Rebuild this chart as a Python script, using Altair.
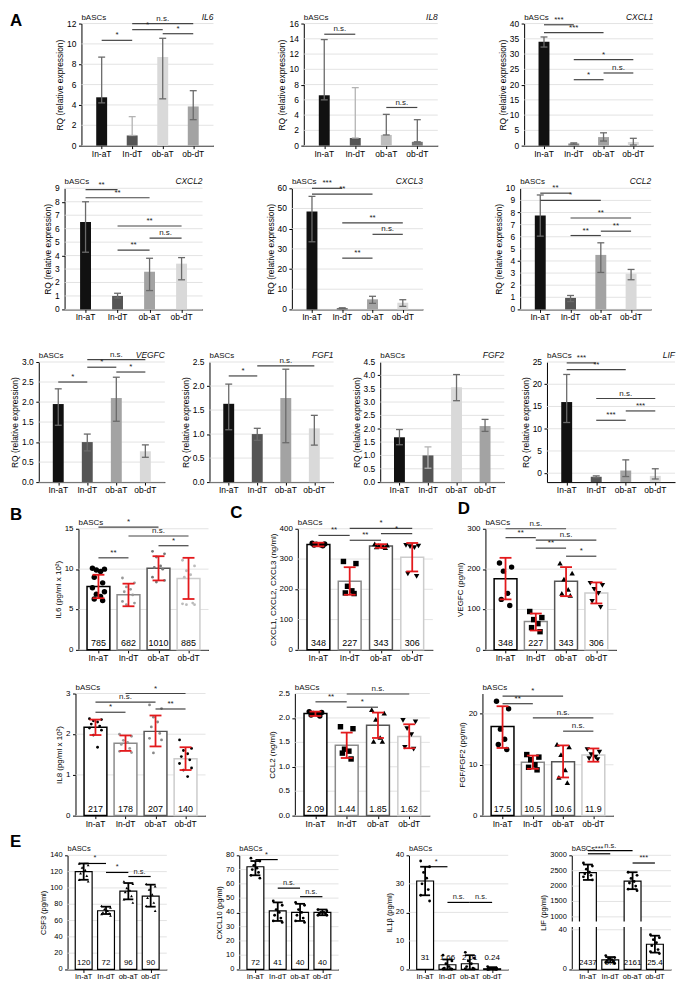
import altair as alt
import pandas as pd

FONT = "Liberation Sans"
CATS = ["In-aT", "In-dT", "ob-aT", "ob-dT"]

K = "#111111"; DK = "#555555"; MD = "#a3a3a3"; LT = "#d9d9d9"
EG = "#6a6a6a"; EL = "#b3b3b3"; SIGC = "#444444"; RED = "#e3191c"; GRID = "#dcdcdc"

# ---------------- A: qPCR (RQ) ----------------
IL6_RQ = [4.75, 1.0, 8.7, 3.85]
IL6_LO = [4.2, 1.0, 4.6, 2.55]
IL6_HI = [8.7, 2.85, 10.55, 5.4]
IL6_SIG = [(0, 1, 10.35, "*"), (1, 2, 11.4, "*"), (2, 3, 11.0, "*"), (1, 3, 12.0, "n.s.")]

IL8_RQ = [6.6, 1.0, 1.4, 0.5]
IL8_LO = [6.0, 1.0, 1.4, 0.5]
IL8_HI = [13.9, 7.6, 4.1, 3.4]
IL8_SIG = [(0, 1, 14.6, "n.s."), (2, 3, 5.0, "n.s.")]

CXCL1_RQ = [34.0, 0.7, 2.8, 1.2]
CXCL1_LO = [32.3, 0.5, 1.5, 0.2]
CXCL1_HI = [35.6, 0.9, 4.2, 2.4]
CXCL1_SIG = [(0, 1, 39.6, "***"), (0, 2, 37.0, "***"), (1, 3, 28.2, "*"), (2, 3, 23.8, "n.s."), (1, 2, 21.6, "*")]

CXCL2_RQ = [6.5, 1.0, 2.8, 3.4]
CXCL2_LO = [4.25, 0.85, 1.4, 2.2]
CXCL2_HI = [8.0, 1.2, 3.8, 3.85]
CXCL2_SIG = [(0, 1, 8.9, "**"), (0, 2, 8.3, "**"), (1, 3, 6.2, "**"), (2, 3, 5.3, "n.s."), (1, 2, 4.4, "**")]

CXCL3_RQ = [48.5, 0.6, 5.0, 3.3]
CXCL3_LO = [33.5, 0.4, 3.0, 1.5]
CXCL3_HI = [56.0, 0.8, 6.5, 4.8]
CXCL3_SIG = [(0, 1, 60.0, "***"), (0, 2, 57.1, "**"), (1, 3, 42.9, "**"), (2, 3, 37.2, "n.s."), (1, 2, 25.4, "**")]

CCL2_RQ = [7.75, 0.95, 4.5, 2.95]
CCL2_LO = [6.05, 0.65, 3.05, 2.45]
CCL2_HI = [9.45, 1.15, 5.5, 3.3]
CCL2_SIG = [(0, 1, 9.6, "**"), (0, 2, 9.0, "*"), (1, 3, 7.55, "**"), (2, 3, 6.46, "**"), (1, 2, 6.1, "**")]

VEGFC_RQ = [1.95, 1.0, 2.1, 0.77]
VEGFC_LO = [1.42, 0.78, 1.52, 0.62]
VEGFC_HI = [2.33, 1.2, 2.62, 0.93]
VEGFC_SIG = [(0, 1, 2.5, "*"), (1, 2, 2.87, "*"), (2, 3, 2.75, "*"), (1, 3, 3.06, "n.s.")]

FGF1_RQ = [1.63, 1.0, 1.75, 1.12]
FGF1_LO = [1.09, 0.87, 0.82, 0.77]
FGF1_HI = [2.04, 1.12, 2.35, 1.39]
FGF1_SIG = [(0, 1, 2.21, "*"), (1, 3, 2.42, "n.s.")]

FGF2_RQ = [1.68, 1.0, 3.55, 2.1]
FGF2_LO = [1.4, 0.52, 3.05, 1.9]
FGF2_HI = [1.97, 1.32, 4.03, 2.35]
FGF2_SIG = []

LIFA_RQ = [16.0, -0.8, 0.6, -0.6]
LIFA_LO = [11.4, -1.0, -0.75, -1.3]
LIFA_HI = [22.2, -0.6, 3.0, 1.0]
LIFA_SIG = [(0, 1, 24.8, "***"), (0, 2, 23.3, "**"), (1, 3, 16.8, "n.s."), (2, 3, 14.0, "***"), (1, 2, 11.9, "***")]

# ---------------- B: IL6 / IL8 secreted ----------------
BIL6_MEAN = [7.85, 6.82, 10.1, 8.85]
BIL6_LO = [6.4, 5.4, 8.6, 6.3]
BIL6_HI = [9.3, 8.2, 11.6, 11.4]
BIL6_LAB = ["785", "682", "1010", "885"]
BIL6_PTS = [[10.1, 10.0, 9.9, 9.7, 9.0, 8.3, 7.7, 7.2, 6.9, 6.6, 6.3, 6.1],
            [8.9, 8.3, 7.8, 7.5, 7.2, 6.8, 6.0, 5.8, 5.6],
            [12.2, 11.9, 11.5, 10.4, 10.2, 10.0, 9.0, 8.6, 8.4],
            [11.1, 10.4, 9.8, 9.3, 9.0, 5.8, 5.7, 5.6, 5.6]]
BIL6_SIG = [(0, 2, 15.2, "*"), (1, 3, 14.1, "n.s."), (2, 3, 12.9, "*"), (0, 1, 11.4, "**")]

BIL8_MEAN = [2.17, 1.78, 2.07, 1.40]
BIL8_LO = [1.98, 1.59, 1.70, 1.12]
BIL8_HI = [2.36, 1.97, 2.46, 1.68]
BIL8_LAB = ["217", "178", "207", "140"]
BIL8_PTS = [[2.38, 2.36, 2.33, 2.30, 2.25, 2.2, 2.15, 2.1, 1.98, 1.68],
            [2.0, 1.95, 1.85, 1.8, 1.75, 1.65, 1.58, 1.55],
            [2.72, 2.63, 2.42, 2.3, 2.18, 2.02, 1.9, 1.86, 1.54],
            [1.86, 1.65, 1.6, 1.52, 1.45, 1.37, 1.28, 1.17, 1.12, 0.96]]
BIL8_SIG = [(1, 3, 3.0, "*"), (0, 2, 2.79, "n.s."), (2, 3, 2.62, "**"), (0, 1, 2.54, "*")]

# ---------------- C: CXCL1,2,3 / CCL2 ----------------
CCX_MEAN = [348, 227, 343, 306]
CCX_LO = [342, 182, 337, 259]
CCX_HI = [354, 273, 349, 353]
CCX_LAB = ["348", "227", "343", "306"]
CCX_PTS = [[352, 350, 349, 347, 346, 344],
           [292, 285, 210, 195, 188, 186],
           [350, 346, 344, 342, 340, 338],
           [345, 343, 341, 338, 251, 243]]
CCX_SIG = [(1, 3, 401, "*"), (2, 3, 384, "*"), (0, 1, 378, "**"), (1, 2, 362, "**")]

CCL2_MEAN = [2.09, 1.44, 1.85, 1.62]
CCL2_ELO = [2.04, 1.18, 1.59, 1.38]
CCL2_EHI = [2.13, 1.70, 2.11, 1.87]
CCL2_LAB = ["2.09", "1.44", "1.85", "1.62"]
CCL2_PTS = [[2.13, 2.11, 2.09, 2.08, 2.06, 2.04],
            [1.82, 1.78, 1.36, 1.32, 1.28, 1.16],
            [2.17, 2.10, 1.97, 1.60, 1.52, 1.52],
            [1.95, 1.92, 1.78, 1.66, 1.40, 1.36]]
CCL2_CSIG = [(1, 3, 2.49, "n.s."), (0, 1, 2.33, "**"), (1, 2, 2.22, "*")]

# ---------------- D: VEGFC / FGF ----------------
DVEG_MEAN = [176, 70, 170, 141]
DVEG_LO = [125, 48, 133, 115]
DVEG_HI = [228, 90, 205, 167]
DVEG_LAB = ["348", "227", "343", "306"]
DVEG_PTS = [[215, 205, 195, 140, 125, 110],
            [95, 80, 75, 65, 55, 45],
            [215, 190, 175, 150, 140, 135],
            [165, 160, 150, 140, 120, 105]]
DVEG_SIG = [(0, 2, 300, "n.s."), (0, 1, 278, "**"), (1, 3, 272, "n.s."), (1, 2, 252, "**"), (2, 3, 232, "*")]

DFGF_MEAN = [17.5, 10.5, 10.6, 11.9]
DFGF_LO = [13.3, 9.2, 7.5, 10.6]
DFGF_HI = [21.5, 11.8, 13.8, 13.2]
DFGF_LAB = ["17.5", "10.5", "10.6", "11.9"]
DFGF_PTS = [[22.5, 21, 17, 15, 14, 13],
            [12, 11.5, 11, 10, 9.5, 9],
            [14, 13.5, 12, 9, 7.5, 6.5],
            [13, 12.5, 12, 11.5, 11.2, 11]]
DFGF_SIG = [(0, 2, 23.5, "*"), (0, 1, 22.0, "**"), (1, 3, 19.2, "n.s."), (2, 3, 16.6, "n.s.")]

# ---------------- E ----------------
CSF3_MEAN = [120, 72, 96, 90]
CSF3_LO = [110, 68, 86, 77]
CSF3_HI = [130, 77, 106, 104]
CSF3_LAB = ["120", "72", "96", "90"]
CSF3_PTS = [[130, 128, 125, 122, 118, 115, 110, 108],
            [78, 76, 74, 72, 70, 69, 68, 66],
            [108, 105, 100, 97, 95, 90, 86, 82],
            [105, 102, 98, 92, 88, 82, 78, 72]]
CSF3_SIG = [(0, 1, 130, "*"), (1, 2, 119, "*"), (2, 3, 114, "n.s.")]

CX10_MEAN = [72, 41, 40, 40]
CX10_LO = [66, 34, 34, 38]
CX10_HI = [76, 47, 46, 42]
CX10_LAB = ["72", "41", "40", "40"]
CX10_PTS = [[78, 76, 73, 71, 70, 68, 66, 64],
            [48, 45, 42, 40, 38, 36, 34, 33],
            [47, 45, 42, 40, 38, 36, 34, 33],
            [42, 41, 40, 40, 39, 39, 38, 38]]
CX10_SIG = [(0, 1, 77, "*"), (1, 2, 57, "n.s."), (2, 3, 51, "n.s.")]

IL1B_MEAN = [31, 1.66, 2.01, 0.24]
IL1B_LO = [26, 0, 0, 0]
IL1B_HI = [36, 3.5, 5, 0.8]
IL1B_LAB = ["31", "1.66", "2.01", "0.24"]
IL1B_PTS = [[38, 36, 34, 32, 30, 28, 26, 24],
            [5, 3, 2, 1, 0.5, 0.3, 0.2, 0.1],
            [6, 4, 3, 2, 1, 0.5, 0.3, 0.2],
            [1, 0.5, 0.3, 0.2, 0.1, 0.1, 0.0, 0.0]]
IL1B_SIG = [(0, 1, 36, "*"), (1, 2, 23.5, "n.s."), (2, 3, 23.5, "n.s.")]

LIFE_MEAN = [2437, 9.7, 2161, 25.4]
LIFE_LO = [2200, 7, 1900, 17]
LIFE_HI = [2700, 12.5, 2450, 34]
LIFE_LAB = ["2437", "9.7", "2161", "25.4"]
LIFE_PTS = [[2750, 2650, 2550, 2450, 2400, 2350, 2300, 2200],
            [14, 12, 11, 10, 9, 8, 7, 6],
            [2450, 2350, 2250, 2150, 2100, 2000, 1900, 1850],
            [35, 32, 30, 27, 24, 20, 18, 16]]
LIFE_SIG = [(0, 2, 3150, "n.s."), (0, 1, 3050, "***"), (2, 3, 2750, "***")]
LIFE_BREAK = [(250, 650)]

JIT = [-0.2, 0.2, -0.07, 0.07, -0.14, 0.14]


def xenc(field="i"):
    return alt.X(f"{field}:Q", scale=alt.Scale(domain=[-0.5, 3.5], nice=False, zero=False),
                 axis=alt.Axis(values=[0, 1, 2, 3], labels=False, title=None, grid=False, tickSize=3))


def one():
    return pd.DataFrame({"k": [0]})


def spacer():
    return alt.Chart(one()).mark_point(opacity=0, size=1).encode(
        x=alt.value(0), y=alt.value(0)).properties(width=1, height=1)


def fmt_tick(t, fmt):
    return f"{t:.1f}" if fmt == ".1f" else str(int(round(t)))


def yaxis(title, ticks, fmt, fs):
    labs = [fmt_tick(t, fmt) for t in ticks]
    lw = max(sum(0.278 * fs if ch == "." else 0.556 * fs for ch in s) for s in labs)
    return alt.Axis(values=ticks, labels=False, grid=False, title=title, tickSize=3,
                    titlePadding=lw + 4, titleFontSize=fs)


def tick_layers(ticks, fmt, fs, w, h, xfs):
    td = pd.DataFrame({"tv": ticks, "tl": [fmt_tick(t, fmt) for t in ticks]})
    grid = alt.Chart(td).mark_rule(color=GRID, strokeWidth=0.8).encode(
        x=alt.value(0), x2=alt.value(w), y="tv:Q")
    ylabs = alt.Chart(td).mark_text(align="right", baseline="middle", fontSize=fs, color="black").encode(
        x=alt.value(-5), y="tv:Q", text="tl:N")
    xd = pd.DataFrame({"i": range(4), "cat": CATS})
    xlabs = alt.Chart(xd).mark_text(align="center", baseline="top", fontSize=xfs, color="black").encode(
        x="i:Q", y=alt.value(h + 4), text="cat:N")
    return grid, ylabs, xlabs


def sig_layers(sig, fs=8, color=SIGC):
    if not sig:
        return []
    sd = pd.DataFrame(sig, columns=["a", "b", "y", "t"])
    sd["m"] = (sd.a + sd.b) / 2
    r = alt.Chart(sd).mark_rule(color=color, strokeWidth=1.2).encode(x="a:Q", x2="b:Q", y="y:Q")
    t = alt.Chart(sd).mark_text(fontSize=fs, baseline="bottom", dy=-1, color="#222").encode(
        x="m:Q", y="y:Q", text="t:N")
    return [r, t]


def frame_layers(w, h, L, T, B, left="bASCs", right=None, letter=None, letter_xy=None, fs=8):
    out = []
    out.append(alt.Chart(one()).mark_point(opacity=0, size=1).encode(x=alt.value(-L), y=alt.value(-T)))
    out.append(alt.Chart(one()).mark_point(opacity=0, size=1).encode(x=alt.value(-L), y=alt.value(h + B)))
    out.append(alt.Chart(one()).mark_text(text=left, align="left", baseline="bottom", fontSize=fs,
                                          color="#111").encode(x=alt.value(0), y=alt.value(-2)))
    if right:
        out.append(alt.Chart(one()).mark_text(text=right, align="right", baseline="bottom", fontSize=fs + 0.5,
                                              fontStyle="italic", color="#111").encode(
            x=alt.value(w), y=alt.value(-2)))
    if letter:
        lx, ly = letter_xy
        out.append(alt.Chart(one()).mark_text(text=letter, align="left", baseline="top", fontSize=17,
                                              fontWeight="bold", color="black").encode(
            x=alt.value(lx), y=alt.value(ly)))
    return out


def a_panel(gene, rq, lo, hi, sig, fills, ecols, ydom, ticks, fmt, w, h, L, T, B=16,
            letter=None, letter_xy=None, base=0, bw=11, fs=8.5):
    df = pd.DataFrame({"i": range(4), "v": rq, "lo": lo, "hi": hi, "f": fills, "ec": ecols,
                       "b0": [base] * 4})
    ysc = alt.Scale(domain=ydom, nice=False, zero=False)
    grid, ylabs, xlabs = tick_layers(ticks, fmt, fs, w, h, fs)
    bars = alt.Chart(df).mark_bar(size=bw).encode(
        x=xenc(), y=alt.Y("v:Q", scale=ysc, axis=yaxis("RQ (relative expression)", ticks, fmt, fs)),
        y2="b0:Q", color=alt.Color("f:N", scale=None, legend=None))
    err = alt.Chart(df).mark_rule(strokeWidth=1.3).encode(
        x="i:Q", y="lo:Q", y2="hi:Q", color=alt.Color("ec:N", scale=None, legend=None))
    caps = [alt.Chart(df).mark_rule(strokeWidth=1.3, xOffset=-3.5, x2Offset=3.5).encode(
        x="i:Q", x2="i:Q", y=f"{c}:Q", color=alt.Color("ec:N", scale=None, legend=None)) for c in ("lo", "hi")]
    layers = [grid, bars, ylabs, xlabs, err] + caps + sig_layers(sig) + frame_layers(
        w, h, L, T, B, right=gene, letter=letter, letter_xy=letter_xy)
    return alt.layer(*layers).properties(width=w, height=h)


def pts_frame(pts, shapes, pcols, psizes):
    rows = []
    for g, vals in enumerate(pts):
        for k, v in enumerate(vals):
            rows.append({"px": g + JIT[k % len(JIT)], "pv": v, "shp": shapes[g], "pc": pcols[g],
                         "ps": psizes[g]})
    return pd.DataFrame(rows)


def c_panel(ytitle, mean, lo, hi, labs_, pts, sig, strokes, shapes, pcols, psizes, ydom, ticks, fmt,
            w, h, L, T, B=16, bw=23, cap=6, letter=None, letter_xy=None, fs=8, labfs=9,
            errc=RED, sigc=SIGC, swidth=1.5, yrange=None, lab_y=0, xfs=8.5, brk=None):
    df = pd.DataFrame({"i": range(4), "v": mean, "lo": lo, "hi": hi, "sc": strokes, "lab": labs_,
                       "b0": [0] * 4, "ly": [lab_y] * 4})
    if yrange is None:
        ysc = alt.Scale(domain=ydom, nice=False, zero=False)
    else:
        ysc = alt.Scale(domain=ydom, range=yrange, nice=False, zero=False)
    grid, ylabs, xlabs = tick_layers(ticks, fmt, fs, w, h, xfs)
    bars = alt.Chart(df).mark_bar(size=bw, fill="white", strokeWidth=swidth).encode(
        x=xenc(), y=alt.Y("v:Q", scale=ysc, axis=yaxis(ytitle, ticks, fmt, fs)), y2="b0:Q",
        stroke=alt.Stroke("sc:N", scale=None, legend=None))
    labels = alt.Chart(df).mark_text(fontSize=labfs, baseline="bottom", dy=-2, color="black").encode(
        x="i:Q", y="ly:Q", text="lab:N")
    pdf = pts_frame(pts, shapes, pcols, psizes)
    points = alt.Chart(pdf).mark_point(filled=True, opacity=1).encode(
        x="px:Q", y="pv:Q", shape=alt.Shape("shp:N", scale=None, legend=None),
        color=alt.Color("pc:N", scale=None, legend=None), size=alt.Size("ps:Q", scale=None, legend=None))
    err = alt.Chart(df).mark_rule(strokeWidth=1.8, color=errc).encode(x="i:Q", y="lo:Q", y2="hi:Q")
    caps = [alt.Chart(df).mark_rule(strokeWidth=1.8, color=errc, xOffset=-cap, x2Offset=cap).encode(
        x="i:Q", x2="i:Q", y=f"{c}:Q") for c in ("lo", "hi")]
    extra = []
    if brk:
        bd = pd.DataFrame(brk, columns=["y1", "y2"])
        extra.append(alt.Chart(bd).mark_rect(color="white").encode(
            x=alt.value(-5), x2=alt.value(w), y="y1:Q", y2="y2:Q"))
    layers = [grid, bars, ylabs, xlabs, labels, points, err] + caps + extra + \
        sig_layers(sig, fs=fs, color=sigc) + \
        frame_layers(w, h, L, T, B, letter=letter, letter_xy=letter_xy, fs=fs)
    return alt.layer(*layers).properties(width=w, height=h)


SH4 = ["circle", "square", "triangle-up", "triangle-down"]
BLK4 = ["black"] * 4

# ---- row A1
T1 = 11
a1 = alt.hconcat(
    spacer(),
    a_panel("IL6", IL6_RQ, IL6_LO, IL6_HI, IL6_SIG, [K, DK, LT, MD], [EG, EL, EG, EG], [0, 12],
            list(range(0, 13, 2)), "d", 133, 123, 68, T1, letter="A", letter_xy=(-72, -11)),
    a_panel("IL8", IL8_RQ, IL8_LO, IL8_HI, IL8_SIG, [K, DK, "#bdbdbd", "#777777"], [EG, EL, EG, EG],
            [0, 16], list(range(0, 17, 2)), "d", 135, 123, 89, T1),
    a_panel("CXCL1", CXCL1_RQ, CXCL1_LO, CXCL1_HI, CXCL1_SIG, [K, "#888888", MD, LT], [EG] * 4,
            [0, 40], list(range(0, 41, 5)), "d", 130, 123, 85, T1),
    spacing=0)

T2 = 25
a2 = alt.hconcat(
    spacer(),
    a_panel("CXCL2", CXCL2_RQ, CXCL2_LO, CXCL2_HI, CXCL2_SIG, [K, DK, MD, LT], [EG] * 4, [0, 9],
            list(range(0, 10)), "d", 139, 122, 54, T2),
    a_panel("CXCL3", CXCL3_RQ, CXCL3_LO, CXCL3_HI, CXCL3_SIG, [K, DK, MD, LT], [EG] * 4, [0, 60],
            list(range(0, 61, 10)), "d", 132, 122, 88, T2),
    a_panel("CCL2", CCL2_RQ, CCL2_LO, CCL2_HI, CCL2_SIG, [K, DK, MD, LT], [EG] * 4, [0, 10],
            list(range(0, 11)), "d", 132, 122, 96, T2),
    spacing=0)

T3 = 35
half = [x / 2 for x in range(0, 10)]
a3 = alt.hconcat(
    spacer(),
    a_panel("VEGFC", VEGFC_RQ, VEGFC_LO, VEGFC_HI, VEGFC_SIG, [K, DK, MD, LT], [EG] * 4, [0, 3],
            half[:7], ".1f", 127, 121, 27, T3),
    a_panel("FGF1", FGF1_RQ, FGF1_LO, FGF1_HI, FGF1_SIG, [K, DK, MD, LT], [EG] * 4, [0, 2.5],
            half[:6], ".1f", 125, 121, 43, T3),
    a_panel("FGF2", FGF2_RQ, FGF2_LO, FGF2_HI, FGF2_SIG, [K, DK, LT, MD], [EG, EL, EG, EG], [0, 4.5],
            half[:10], ".1f", 125, 121, 45, T3),
    a_panel("LIF", LIFA_RQ, LIFA_LO, LIFA_HI, LIFA_SIG, [K, DK, MD, LT], [EG] * 4, [-2, 25],
            list(range(0, 26, 5)), "d", 129, 121, 41, T3, base=-2),
    spacing=0)

# ---- rows B/C/D
T4 = 29
B_STROKE = ["black", "#8a8a8a", "#555555", "#cccccc"]
r4 = alt.hconcat(
    spacer(),
    c_panel("IL6 (pg/ml x 10²)", BIL6_MEAN, BIL6_LO, BIL6_HI, BIL6_LAB, BIL6_PTS, BIL6_SIG, B_STROKE,
            ["circle"] * 4, ["black", "#999999", "#777777", "#bbbbbb"], [30, 8, 8, 8], [0, 15],
            [0, 5, 10, 15], "d", 131, 122, 65, T4, letter="B", letter_xy=(-69, -22)),
    c_panel("CXCL1, CXCL2, CXCL3 (ng/ml)", CCX_MEAN, CCX_LO, CCX_HI, CCX_LAB, CCX_PTS, CCX_SIG, B_STROKE,
            SH4, BLK4, [30] * 4, [0, 400], [0, 100, 200, 300, 400], "d", 136, 122, 88, T4,
            letter="C", letter_xy=(-68, -24)),
    c_panel("VEGFC (pg/ml)", DVEG_MEAN, DVEG_LO, DVEG_HI, DVEG_LAB, DVEG_PTS, DVEG_SIG, B_STROKE,
            SH4, BLK4, [30] * 4, [0, 300], [0, 100, 200, 300], "d", 132, 122, 51, T4,
            letter="D", letter_xy=(-28, -28)),
    spacing=0)

T5 = 26
r5 = alt.hconcat(
    spacer(),
    c_panel("IL8 (pg/ml x 10²)", BIL8_MEAN, BIL8_LO, BIL8_HI, BIL8_LAB, BIL8_PTS, BIL8_SIG, B_STROKE,
            ["circle"] * 4, ["black", "#999999", "#888888", "black"], [8, 8, 8, 8], [0, 3],
            [0, 1, 2, 3], "d", 131, 123, 65, T5),
    c_panel("CCL2 (ng/ml)", CCL2_MEAN, CCL2_ELO, CCL2_EHI, CCL2_LAB, CCL2_PTS, CCL2_CSIG, B_STROKE,
            SH4, BLK4, [30] * 4, [0, 2.5], [0, 0.5, 1.0, 1.5, 2.0, 2.5], ".1f", 136, 123, 88, T5),
    c_panel("FGF/FGF2 (pg/ml)", DFGF_MEAN, DFGF_LO, DFGF_HI, DFGF_LAB, DFGF_PTS, DFGF_SIG, B_STROKE,
            SH4, BLK4, [30] * 4, [0, 24], [0, 10, 20], "d", 132, 123, 51, T5),
    spacing=0)

# ---- row E
T6 = 22
HE = 115
E_ST = ["black"] * 4
E_PC = ["black"] * 4
E_SZ = [8] * 4
EKW = dict(B=12, bw=17, cap=5, errc="black", sigc="black", swidth=1.2, fs=7.5, labfs=8, xfs=7.5)
r6 = alt.hconcat(
    spacer(),
    c_panel("CSF3 (pg/ml)", CSF3_MEAN, CSF3_LO, CSF3_HI, CSF3_LAB, CSF3_PTS, CSF3_SIG, E_ST,
            ["triangle-up"] * 4, E_PC, E_SZ, [0, 140], list(range(0, 141, 20)), "d", 100, HE, 56, T6,
            letter="E", letter_xy=(-58, -21), **EKW),
    c_panel("CXCL10 (pg/ml)", CX10_MEAN, CX10_LO, CX10_HI, CX10_LAB, CX10_PTS, CX10_SIG, E_ST,
            ["circle"] * 4, E_PC, E_SZ, [0, 80], list(range(0, 81, 10)), "d", 100, HE, 71, T6, **EKW),
    c_panel("IL1β (pg/ml)", IL1B_MEAN, IL1B_LO, IL1B_HI, IL1B_LAB, IL1B_PTS, IL1B_SIG, E_ST,
            ["circle"] * 4, E_PC, E_SZ, [0, 40], list(range(0, 41, 10)), "d", 100, HE, 69, T6,
            lab_y=2, **EKW),
    c_panel("LIF (pg/ml)", LIFE_MEAN, LIFE_LO, LIFE_HI, LIFE_LAB, LIFE_PTS, LIFE_SIG, E_ST,
            ["circle"] * 4, E_PC, E_SZ, [0, 40, 1000, 3000], [0, 40, 1000, 1500, 2000, 2500, 3000], "d",
            100, HE, 62, T6, yrange=[HE, HE - 40, HE - 53, 0], brk=LIFE_BREAK, **EKW),
    spacing=0)

chart = alt.vconcat(a1, a2, a3, r4, r5, r6, spacing=0).properties(padding=0).configure(
    font=FONT).configure_view(stroke=None).configure_axis(
    labelFont=FONT, titleFont=FONT, titleFontWeight="normal", labelColor="black", titleColor="black",
    domainColor="black", tickColor="black", domainWidth=1)

chart.save("out.html", embed_options={"renderer": "svg", "actions": False})
